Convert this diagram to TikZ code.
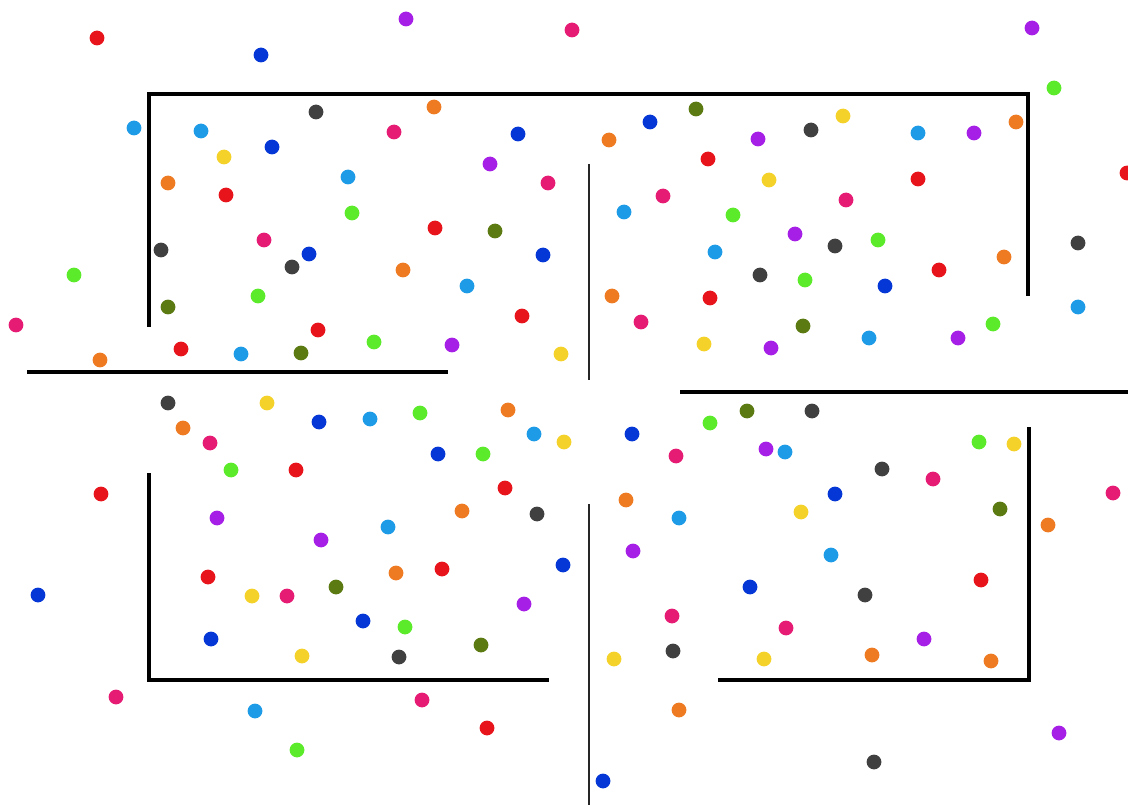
\documentclass[tikz,border=0pt]{standalone}
\usepackage{tikz}
\definecolor{dotred}{HTML}{E8141B}
\definecolor{dotblue}{HTML}{0536D6}
\definecolor{dotpurple}{HTML}{A61FE6}
\definecolor{dotpink}{HTML}{E61B73}
\definecolor{dotgray}{HTML}{404040}
\definecolor{dotorange}{HTML}{EE7A22}
\definecolor{dotsky}{HTML}{1E9BE6}
\definecolor{dotyellow}{HTML}{F5D22A}
\definecolor{dotgreen}{HTML}{5CEB2A}
\definecolor{dotolive}{HTML}{5C7A12}

\begin{document}
\begin{tikzpicture}[
    x=1pt, y=-1pt,
    wall/.style={draw=black, line width=3.2pt, line join=miter},
    thinwall/.style={wall, draw=black!85, line width=2.9pt},
    ball/.style={fill=#1},
]

\useasboundingbox[fill=white] (0,0) rectangle (1128,805);

% --- WALLS ---
\draw[wall] (149,327) -- (149,94) -- (1028,94) -- (1028,296);
\draw[wall] (27,372) -- (448,372);
\draw[thinwall] (589,164) -- (589,380);
\draw[wall] (680,392) -- (1128,392);
\draw[wall] (149,473) -- (149,680) -- (549,680);
\draw[thinwall] (589,504) -- (589,805);
\draw[wall] (718,680) -- (1029,680) -- (1029,427);

% --- PARTICLES, one colour at a time ---
\foreach \px/\py in {97/38, 226/195, 435/228, 522/316, 318/330, 181/349,
    708/159, 918/179, 1127/173, 939/270, 710/298, 296/470, 505/488,
    101/494, 208/577, 442/569, 487/728, 981/580}
  \fill[ball=dotred] (\px,\py) circle[radius=7.4pt];

\foreach \px/\py in {261/55, 272/147, 518/134, 309/254, 543/255, 650/122,
    885/286, 319/422, 438/454, 563/565, 38/595, 363/621, 211/639,
    632/434, 835/494, 750/587, 603/781}
  \fill[ball=dotblue] (\px,\py) circle[radius=7.4pt];

\foreach \px/\py in {406/19, 1032/28, 490/164, 452/345, 758/139, 974/133,
    795/234, 771/348, 958/338, 217/518, 321/540, 524/604, 766/449,
    633/551, 924/639, 1059/733}
  \fill[ball=dotpurple] (\px,\py) circle[radius=7.4pt];

\foreach \px/\py in {572/30, 16/325, 394/132, 548/183, 264/240, 663/196,
    846/200, 641/322, 210/443, 287/596, 116/697, 422/700, 676/456,
    933/479, 1113/493, 672/616, 786/628}
  \fill[ball=dotpink] (\px,\py) circle[radius=7.4pt];

\foreach \px/\py in {316/112, 161/250, 292/267, 811/130, 835/246, 1078/243,
    760/275, 168/403, 537/514, 399/657, 812/411, 882/469, 865/595,
    673/651, 874/762}
  \fill[ball=dotgray] (\px,\py) circle[radius=7.4pt];

\foreach \px/\py in {100/360, 434/107, 168/183, 403/270, 609/140, 1016/122,
    1004/257, 612/296, 508/410, 183/428, 462/511, 396/573, 626/500,
    1048/525, 872/655, 991/661, 679/710}
  \fill[ball=dotorange] (\px,\py) circle[radius=7.4pt];

\foreach \px/\py in {134/128, 201/131, 348/177, 467/286, 241/354, 918/133,
    624/212, 715/252, 1078/307, 869/338, 370/419, 534/434, 388/527,
    255/711, 785/452, 679/518, 831/555}
  \fill[ball=dotsky] (\px,\py) circle[radius=7.4pt];

\foreach \px/\py in {224/157, 561/354, 843/116, 769/180, 704/344, 267/403,
    564/442, 252/596, 302/656, 1014/444, 801/512, 614/659, 764/659}
  \fill[ball=dotyellow] (\px,\py) circle[radius=7.4pt];

\foreach \px/\py in {1054/88, 74/275, 352/213, 258/296, 374/342, 733/215,
    878/240, 805/280, 993/324, 420/413, 483/454, 231/470, 405/627,
    297/750, 710/423, 979/442}
  \fill[ball=dotgreen] (\px,\py) circle[radius=7.4pt];

\foreach \px/\py in {495/231, 168/307, 301/353, 696/109, 803/326, 336/587,
    481/645, 747/411, 1000/509}
  \fill[ball=dotolive] (\px,\py) circle[radius=7.4pt];

\end{tikzpicture}
\end{document}
